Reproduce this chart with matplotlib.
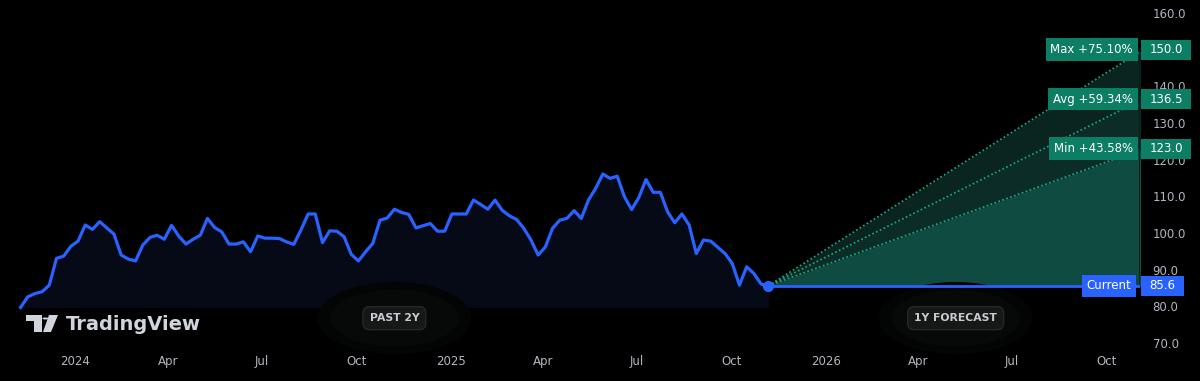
import numpy as np
import matplotlib.pyplot as plt
import matplotlib.dates as mdates
import matplotlib.transforms as mtransforms
from matplotlib.patches import Polygon, Circle, Ellipse, Rectangle

# weekly closes, past 2 years
weekly_close = [
    79.7, 82.6, 83.5, 84.0, 85.8, 93.1, 93.7, 96.4, 97.8, 102.2,
    101.0, 103.1, 101.4, 99.7, 94.0, 92.9, 92.4, 96.7, 98.8, 99.4,
    98.3, 102.1, 99.2, 97.0, 98.3, 99.4, 104.0, 101.5, 100.3, 97.0,
    97.0, 97.6, 94.9, 99.2, 98.6, 98.6, 98.5, 97.6, 96.9, 100.8,
    105.2, 105.2, 97.4, 100.6, 100.5, 99.0, 94.2, 92.4, 94.9, 97.2,
    103.5, 104.1, 106.5, 105.6, 105.1, 101.4, 102.0, 102.6, 100.5, 100.5,
    105.2, 105.2, 105.2, 109.0, 107.8, 106.5, 109.0, 106.2, 104.7, 103.7,
    101.3, 98.1, 94.0, 96.2, 101.3, 103.5, 104.0, 106.1, 104.0, 109.0,
    112.2, 116.1, 114.9, 115.5, 109.9, 106.4, 109.7, 114.6, 111.1, 111.1,
    105.8, 102.8, 105.2, 102.2, 94.4, 98.1, 97.8, 96.1, 94.4, 91.7,
    85.8, 90.8, 89.0, 86.1, 85.6,
]
last_date = np.datetime64('2025-11-06')
forecast_end = np.datetime64('2026-11-06')
current_price = 85.6

forecast_names = ['Max', 'Avg', 'Min']
forecast_targets = [150.0, 136.5, 123.0]
forecast_pct = ['+75.10%', '+59.34%', '+43.58%']

tick_dates = ['2024-01-01', '2024-04-01', '2024-07-01', '2024-10-01',
              '2025-01-01', '2025-04-01', '2025-07-01', '2025-10-01',
              '2026-01-01', '2026-04-01', '2026-07-01', '2026-10-01']
tick_labels = ['2024', 'Apr', 'Jul', 'Oct', '2025', 'Apr', 'Jul', 'Oct',
               '2026', 'Apr', 'Jul', 'Oct']
price_ticks = np.arange(70, 161, 10)

BLUE = '#2962ff'
GREEN = '#0b7e64'
GREY = '#b2b5be'

n = len(weekly_close)
dates = last_date - np.arange(n)[::-1] * np.timedelta64(7, 'D')
x = mdates.date2num(dates)
x_end = mdates.date2num(last_date)
x_fc = mdates.date2num(forecast_end)
x_right = mdates.date2num(np.datetime64('2026-11-03'))

fig = plt.figure(figsize=(12, 3.81), dpi=100, facecolor='black')
ax = fig.add_axes([0, 0, 1140 / 1200, 1])
ax.set_facecolor('black')
for s in ax.spines.values():
    s.set_visible(False)

# history
ax.fill_between(x, weekly_close, min(weekly_close), color='#060a16', lw=0, zorder=1)
ax.plot(x, weekly_close, color=BLUE, lw=2.3, solid_joinstyle='round', zorder=4)

# forecast cone
lows = [current_price] + sorted(forecast_targets)
highs = sorted(forecast_targets)
cone_colors = ['#0f4b41', '#0c2d27', '#0a241f']
for lo, hi, c in zip(lows, highs, cone_colors):
    ax.fill_between([x_end, x_fc], [current_price, lo], [current_price, hi],
                    color=c, lw=0, zorder=1)
for t in forecast_targets:
    ax.plot([x_end, x_fc], [current_price, t], color='#14a47f', lw=1.3,
            ls=(0, (1, 1.3)), zorder=2)
ax.plot([x_right, x_right], [current_price, max(forecast_targets)], color='#0a1c18',
        lw=1.2, zorder=2)
ax.plot([x_end, x_fc], [current_price, current_price], color=BLUE, lw=2, zorder=3)
ax.plot([x_end], [current_price], 'o', color=BLUE, ms=7, zorder=5)

ax.set_xlim(x_right - 1110, x_right)
ax.set_ylim(59.65, 163.55)

ax.set_xticks(mdates.date2num(np.array(tick_dates, dtype='datetime64[D]')))
ax.set_xticklabels(tick_labels)
ax.set_yticks(price_ticks)
# 150.0 sits under the Max value box
ax.set_yticklabels(['' if v == 150 else '%.1f' % v for v in price_ticks])
ax.yaxis.tick_right()
ax.tick_params(axis='x', direction='in', length=0, pad=-19, colors=GREY, labelsize=8.5)
ax.tick_params(axis='y', length=0, pad=9, colors=GREY, labelsize=8.5)

# right side labels
tr = mtransforms.blended_transform_factory(ax.transAxes, ax.transData)
half = 10 / 3.665  # 10 px in price units


def value_box(y, text, color, width_px):
    ax.add_patch(Rectangle((1141 / 1140, y - half), width_px / 1140, 2 * half,
                           transform=tr, fc=color, ec='none', zorder=6, clip_on=False))
    ax.text((1141 + width_px / 2) / 1140, y, text, transform=tr, ha='center',
            va='center', color='white', fontsize=8.5, zorder=7, clip_on=False)


for name, t, pct in zip(forecast_names, forecast_targets, forecast_pct):
    ax.text(1133 / 1140, t, name + ' ' + pct, transform=tr, ha='right', va='center',
            color='white', fontsize=8.5, zorder=6, clip_on=False,
            bbox=dict(boxstyle='square,pad=0.4', fc=GREEN, ec='none'))
    value_box(t, '%.1f' % t, GREEN, 50)
ax.text(1131 / 1140, current_price, 'Current', transform=tr, ha='right', va='center',
        color='white', fontsize=8.5, zorder=6, clip_on=False,
        bbox=dict(boxstyle='square,pad=0.4', fc=BLUE, ec='none'))
value_box(current_price, '%.1f' % current_price, BLUE, 43)

# period badges
tb = mtransforms.blended_transform_factory(ax.transData, ax.transAxes)
for xm, label in [((x[0] + x_end) / 2, 'PAST 2Y'), ((x_end + x_fc) / 2, '1Y FORECAST')]:
    for w, h, c in [(150, 0.19, '#030404'), (125, 0.15, '#070909')]:
        ax.add_patch(Ellipse((xm, 0.165), w, h, transform=tb, fc=c, ec='none', zorder=2))
    ax.text(xm, 0.165, label, transform=tb, ha='center', va='center', color='#c9cbd0',
            fontsize=7.8, fontweight='bold', zorder=6,
            bbox=dict(boxstyle='round,pad=0.6,rounding_size=0.6', fc='#161818',
                      ec='#262828', lw=1))

# TradingView watermark
def px(pts):
    return [(a / 1200, 1 - b / 381) for a, b in pts]

logo = '#d1d4dc'
fig.patches.append(Polygon(px([(26, 315), (42, 315), (42, 332), (34, 332), (34, 321), (26, 321)]),
                           closed=True, fc=logo, ec='none', transform=fig.transFigure))
fig.patches.append(Circle((45.5 / 1200, 1 - 318.5 / 381), 3.2 / 1200, fc=logo, ec='none',
                          transform=fig.transFigure))
fig.patches.append(Polygon(px([(49, 315), (58, 315), (51, 332), (43, 332)]),
                           closed=True, fc=logo, ec='none', transform=fig.transFigure))
fig.text(66 / 1200, 1 - 324 / 381, 'TradingView', color=logo, fontsize=14,
         fontweight='bold', va='center', ha='left')

fig.savefig('out.png', dpi=100, facecolor='black')
